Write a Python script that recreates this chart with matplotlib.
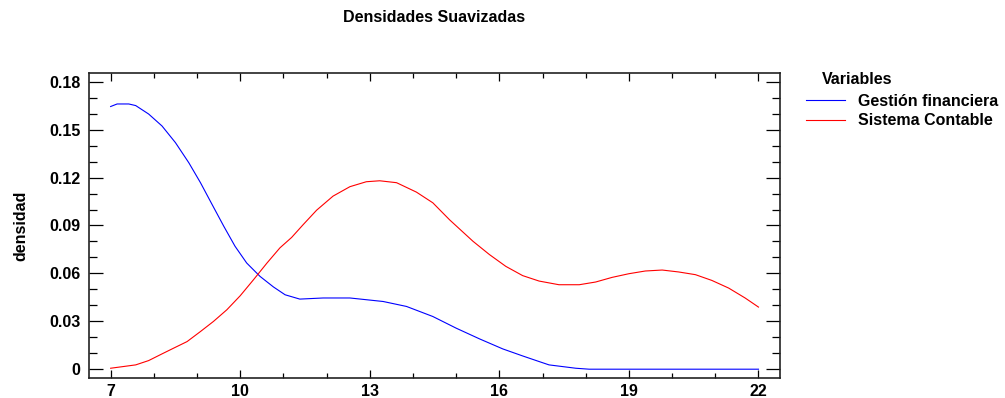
import matplotlib
matplotlib.use("Agg")
import matplotlib.pyplot as plt
from matplotlib.ticker import MultipleLocator, FixedLocator

plt.rcParams['font.family'] = ['Liberation Sans', 'DejaVu Sans']
plt.rcParams['font.weight'] = 'bold'

# datos
gestion_x = [7.0, 7.15, 7.42, 7.58, 7.88, 8.19, 8.50, 8.81, 9.08, 9.35, 9.62, 9.88,
             10.15, 10.46, 10.77, 11.04, 11.38, 11.92, 12.54, 13.31, 13.85, 14.46,
             15.0, 15.54, 16.08, 16.54, 16.92, 17.15, 17.77, 18.08, 22.0]
gestion_y = [0.1645, 0.1661, 0.1661, 0.1651, 0.1598, 0.1523, 0.1419, 0.1293, 0.1168,
             0.1031, 0.0895, 0.0770, 0.0665, 0.0581, 0.0515, 0.0466, 0.0439, 0.0446,
             0.0446, 0.0424, 0.0393, 0.0330, 0.0257, 0.0190, 0.0127, 0.0083, 0.0048,
             0.0027, 0.0006, 0.0, 0.0]

sistema_x = [7.0, 7.58, 7.88, 8.19, 8.46, 8.77, 9.08, 9.38, 9.69, 10.0, 10.31, 10.62,
             10.92, 11.19, 11.46, 11.77, 12.15, 12.54, 12.92, 13.23, 13.62, 14.08,
             14.46, 14.85, 15.39, 15.77, 16.15, 16.54, 16.92, 17.38, 17.85, 18.23,
             18.61, 19.0, 19.38, 19.77, 20.15, 20.54, 20.92, 21.31, 21.69, 22.0]
sistema_y = [0.0006, 0.0027, 0.0054, 0.0096, 0.0132, 0.0173, 0.0236, 0.0299, 0.0372,
             0.0460, 0.0561, 0.0665, 0.0760, 0.0825, 0.0906, 0.0996, 0.1084, 0.1143,
             0.1174, 0.1180, 0.1168, 0.1109, 0.1042, 0.0935, 0.0801, 0.0718, 0.0644,
             0.0586, 0.0552, 0.0529, 0.0529, 0.0546, 0.0575, 0.0598, 0.0615, 0.0621,
             0.0609, 0.0592, 0.0556, 0.0508, 0.0446, 0.0389]

x_ticks = [7, 10, 13, 16, 19, 22]
y_ticks = [0, 0.03, 0.06, 0.09, 0.12, 0.15, 0.18]
y_labels = ['0', '0.03', '0.06', '0.09', '0.12', '0.15', '0.18']

fs = 11.5

fig = plt.figure(figsize=(10.05, 3.98), dpi=100)
ax = fig.add_axes([0.0886, 0.0503, 0.6876, 0.7663])

l1, = ax.plot(gestion_x, gestion_y, color='#0000ff', lw=0.8, label='Gestión financiera')
l2, = ax.plot(sistema_x, sistema_y, color='#ff0000', lw=0.8, label='Sistema Contable')

ax.set_xlim(6.5, 22.5)
ax.set_ylim(-0.0055, 0.1855)
ax.xaxis.set_major_locator(FixedLocator(x_ticks))
ax.xaxis.set_minor_locator(MultipleLocator(1))
ax.yaxis.set_major_locator(FixedLocator(y_ticks))
ax.yaxis.set_minor_locator(MultipleLocator(0.01))
ax.set_yticklabels(y_labels)

ax.tick_params(which='both', direction='in', top=True, right=True, colors='black',
               labelsize=fs, width=0.9)
ax.tick_params(axis='y', which='major', length=10, pad=6)
ax.tick_params(axis='y', which='minor', length=6)
ax.tick_params(axis='x', which='major', length=6, pad=4)
ax.tick_params(axis='x', which='minor', length=3.5)
for lab in ax.get_xticklabels() + ax.get_yticklabels():
    lab.set_fontweight('bold')
for sp in ax.spines.values():
    sp.set_linewidth(1.2)
    sp.set_color('#222222')

ax.set_ylabel('densidad', fontsize=fs, fontweight='bold')
ax.yaxis.set_label_coords(-0.088, 0.5)

fig.text(0.4323, 0.955, 'Densidades Suavizadas', ha='center', va='center',
         fontsize=fs, fontweight='bold')

fig.text(0.818, 0.799, 'Variables', ha='left', va='center', fontsize=fs, fontweight='bold')
fig.legend(handles=[l1, l2], loc='upper left', bbox_to_anchor=(0.802, 0.764),
           frameon=False, handlelength=2.45, handletextpad=0.8,
           labelspacing=0.28, borderaxespad=0, borderpad=0,
           prop={'weight': 'bold', 'size': fs})

fig.savefig('out.png', dpi=100)
